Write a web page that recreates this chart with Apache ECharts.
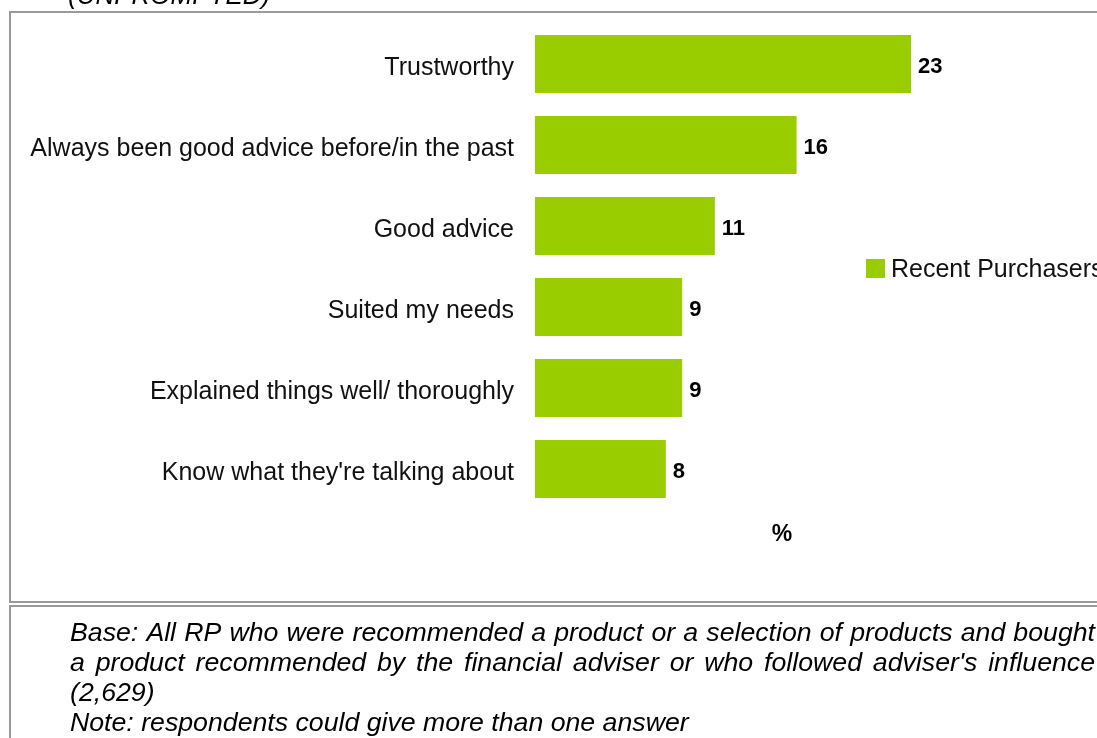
<!DOCTYPE html>
<html>
<head>
<meta charset="utf-8">
<script src="https://cdn.jsdelivr.net/npm/echarts@6/dist/echarts.min.js"></script>
<style>
  html, body { margin: 0; padding: 0; background: #fff; }
  #chart { width: 1097px; height: 738px; }
</style>
</head>
<body>
<div id="chart"></div>
<script>
// Reasons given for trusting the adviser (unprompted), % of recent purchasers
const categories = [
  "Trustworthy",
  "Always been good advice before/in the past",
  "Good advice",
  "Suited my needs",
  "Explained things well/ thoroughly",
  "Know what they're talking about"
];
const recentPurchasers = [23, 16, 11, 9, 9, 8];
const seriesName = "Recent Purchasers";
const axisUnit = "%";
const headingText = "(UNPROMPTED)";
const baseLines = [
  "Base: All RP who were recommended a product or a selection of products and bought",
  "a product recommended by the financial adviser or who followed adviser's influence",
  "(2,629)",
  "Note: respondents could give more than one answer"
];

const FONT = '"Liberation Sans", Arial, sans-serif';
const GREEN = '#9ACD00';
const BORDER = '#9a9a9a';

// Build justified footnote lines word by word
const measureCtx = document.createElement('canvas').getContext('2d');
const noteFont = 'italic 26.7px "Liberation Sans", Arial, sans-serif';
measureCtx.font = noteFont;
function noteLine(text, y, justify) {
  const left = 70, right = 1095;
  if (!justify) {
    return [{ type: 'text', x: left, y: y,
      style: { text: text, font: noteFont, fill: '#000', verticalAlign: 'middle' } }];
  }
  const words = text.split(' ');
  const widths = words.map(w => measureCtx.measureText(w).width);
  const total = widths.reduce((a, b) => a + b, 0);
  const gap = (right - left - total) / (words.length - 1);
  let x = left;
  return words.map((w, i) => {
    const el = { type: 'text', x: x, y: y,
      style: { text: w, font: noteFont, fill: '#000', verticalAlign: 'middle' } };
    x += widths[i] + gap;
    return el;
  });
}

const footnote = []
  .concat(noteLine(baseLines[0], 634, true))
  .concat(noteLine(baseLines[1], 664, true))
  .concat(noteLine(baseLines[2], 694, false))
  .concat(noteLine(baseLines[3], 724, false));

const chart = echarts.init(document.getElementById('chart'), null, { renderer: 'canvas' });

chart.setOption({
  backgroundColor: '#fff',
  animation: false,
  grid: { left: 535, top: 23.5, height: 486, width: 490.5, containLabel: false },
  xAxis: {
    type: 'value', min: 0, max: 30,
    show: false, splitLine: { show: false }
  },
  yAxis: {
    type: 'category', inverse: true, data: categories,
    axisLine: { show: false }, axisTick: { show: false },
    axisLabel: {
      margin: 21,
      formatter: '{c|{value}}',
      rich: { c: { fontFamily: FONT, fontSize: 25, color: '#111', padding: [8, 0, 0, 0] } }
    }
  },
  legend: {
    data: [seriesName],
    left: 861, top: 253,
    itemWidth: 19, itemHeight: 19, itemGap: 0,
    icon: 'rect',
    formatter: '{l|{name}}',
    textStyle: {
      fontFamily: FONT, fontSize: 25, color: '#111',
      rich: { l: { fontFamily: FONT, fontSize: 25, color: '#111', padding: [4, 0, 0, 1] } }
    }
  },
  series: [{
    name: seriesName,
    type: 'bar',
    data: recentPurchasers,
    barCategoryGap: '28.4%',
    itemStyle: { color: GREEN },
    label: {
      show: true, position: 'right', distance: 7,
      formatter: '{v|{c}}',
      rich: { v: { fontFamily: FONT, fontSize: 22, fontWeight: 'bold', color: '#000', padding: [6, 0, 0, 0] } }
    }
  }],
  graphic: [
    { type: 'rect', shape: { x: 10, y: 12, width: 1100, height: 590 },
      style: { fill: 'none', stroke: BORDER, lineWidth: 2 }, silent: true },
    { type: 'rect', shape: { x: 10, y: 606, width: 1100, height: 140 },
      style: { fill: 'none', stroke: BORDER, lineWidth: 2 }, silent: true },
    { type: 'text', x: 68, y: 10,
      style: { text: headingText, font: 'italic 26px "Liberation Sans", Arial, sans-serif',
        fill: '#000', verticalAlign: 'bottom' } },
    { type: 'text', x: 782, y: 535,
      style: { text: axisUnit, font: 'bold 23px "Liberation Sans", Arial, sans-serif',
        fill: '#000', align: 'center', verticalAlign: 'middle' } }
  ].concat(footnote)
});
</script>
</body>
</html>
